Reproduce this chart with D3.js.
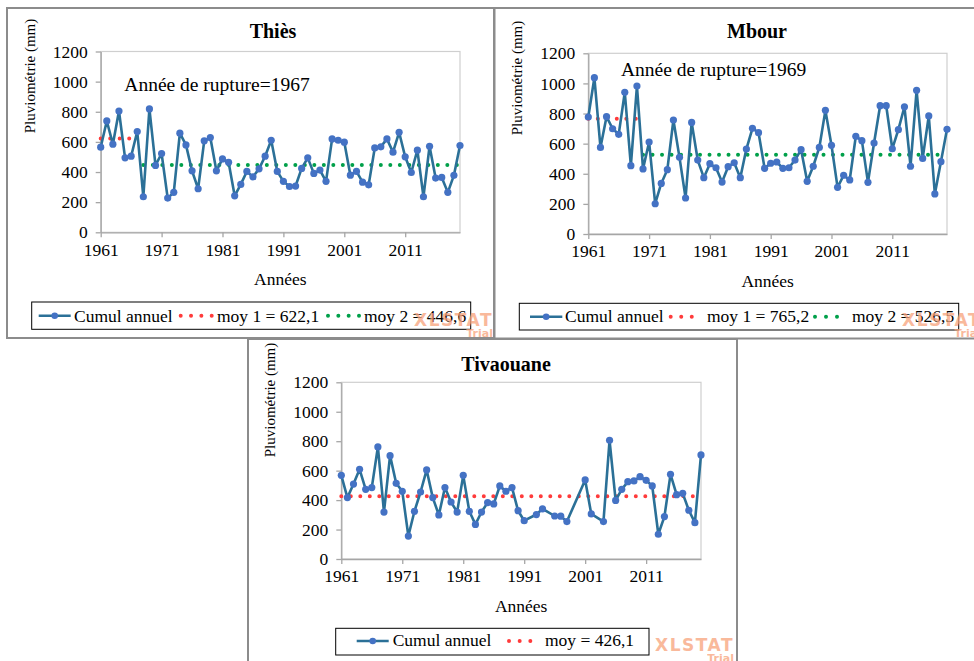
<!DOCTYPE html>
<html><head><meta charset="utf-8">
<script src="https://cdn.jsdelivr.net/npm/d3@7"></script>
<style>
body{margin:0;background:#fff}
svg{display:block}
text{font-family:"Liberation Serif","Times New Roman",serif}
</style>
</head><body>
<svg id="c" width="974" height="661"></svg>
<script>
// ---------- DATA ----------
const years = d3.range(1961, 2021);
const thiesValues = [565,739,585,805,494,505,669,236,819,444,
  523,227,265,658,580,408,289,607,629,408,
  487,465,242,318,404,368,421,505,611,404,
  338,304,307,424,494,391,413,338,620,611,
  598,379,404,333,315,560,567,620,532,664,
  501,397,545,236,571,360,364,265,378,576];
const mbourValues = [777,1038,575,779,699,662,941,454,983,432,
  611,201,336,427,757,509,239,741,491,374,
  467,440,345,447,473,374,564,702,673,436,
  470,478,436,440,491,560,350,450,575,821,
  589,310,390,359,649,620,343,604,852,852,
  566,693,845,450,954,502,784,266,480,695];
const tivaouaneValues = [568,417,509,609,473,485,761,319,702,514,
  460,156,324,455,605,417,299,485,387,319,
  568,324,235,319,383,374,496,460,485,328,
  260,null,302,341,null,292,291,254,null,null,
  537,306,null,254,806,398,473,525,530,559,
  534,496,168,288,575,437,446,331,247,707];
const stationNames = ["Thiès", "Mbour", "Tivaouane"];
const breakYears = [1967, 1969, null];
const mean1Values = [622.1, 765.2, 426.1];
const mean2Values = [446.6, 526.5, null];
const mean1Labels = ["moy 1 = 622,1", "moy 1 = 765,2", "moy = 426,1"];
const mean2Labels = ["moy 2 = 446,6", "moy 2 = 526,5", null];
const seriesLabel = "Cumul annuel";
const yTickValues = [0, 200, 400, 600, 800, 1000, 1200];
const xTickValues = [1961, 1971, 1981, 1991, 2001, 2011];
const allValues = [thiesValues, mbourValues, tivaouaneValues];

// ---------- LAYOUT ----------
const layout = [
  {frame:[7,8,487,330], plot:[100.7,51.5,460,232.3], title:[273,38], ylab:[30,76],
   note:[124.3,90.5], legend:{box:[31.7,302,439,27.3], cy:315.7, base:321.7,
   items:[[38.7,70.7,74],[180.7,211.7,217],[328,359,364]]}, wm:[493,325.5]},
  {frame:[494.5,8,481,330.5], plot:[588.3,53.3,947,234], title:[757,38], ylab:[517,78],
   note:[621,76], legend:{box:[519.3,303.3,439.4,26.7], cy:316.7, base:322.3,
   items:[[530,562.3,565],[670.7,702.3,707],[815,848,852]]}, wm:[981,326]},
  {frame:[248,339,489,340], plot:[341.3,382.3,701,559], title:[506,371], ylab:[270,400],
   note:null, legend:{box:[335.7,628.3,313.3,26.7], cy:641, base:646,
   items:[[356.7,388.7,392.7],[509,541,545]]}, wm:[734,650.5]}
];

const LINE = "#2b7097", MARK = "#4472c4", RED = "#ff3b3b", GREEN = "#00a04a", WM = "#f8a27a";
const svg = d3.select("#c");
svg.append("rect").attr("width",974).attr("height",661).attr("fill","#fff");

// frames (Tivaouane first so the upper panels sit on top)
[2,0,1].forEach(i => {
  const f = layout[i].frame;
  svg.append("rect").attr("x",f[0]).attr("y",f[1]).attr("width",f[2]).attr("height",f[3])
    .attr("fill","#fff").attr("stroke","#8c8c8c").attr("stroke-width",2);
});

const wmLayer = [];
layout.forEach((L, i) => {
  const g = svg.append("g");
  const [x0, yT, x1, yB] = L.plot;
  const x = d3.scaleLinear().domain([1961, 2020]).range([x0, x1]);
  const y = d3.scaleLinear().domain([0, 1200]).range([yB, yT]);

  // plot area border
  g.append("rect").attr("x",x0).attr("y",yT).attr("width",x1-x0).attr("height",yB-yT)
    .attr("fill","none").attr("stroke","#cfcfcf").attr("stroke-width",1.2);

  const ax = g.append("g").attr("transform",`translate(${x0},0)`)
    .call(d3.axisLeft(y).tickValues(yTickValues).tickSize(5).tickSizeOuter(0).tickPadding(8).tickFormat(d3.format("d")));
  const bx = g.append("g").attr("transform",`translate(0,${yB})`)
    .call(d3.axisBottom(x).tickValues(xTickValues).tickSize(5).tickSizeOuter(0).tickPadding(6).tickFormat(d3.format("d")));
  [ax, bx].forEach(a => {
    a.attr("font-family", null).attr("font-size", null);
    a.select(".domain").attr("stroke","#a6a6a6").attr("stroke-width",1.3);
    a.selectAll(".tick line").attr("stroke","#a6a6a6").attr("stroke-width",1.3);
    a.selectAll("text").style("font-family","'Liberation Serif',serif").style("font-size","17.5px").style("fill","#000");
  });

  // titles
  g.append("text").attr("x",L.title[0]).attr("y",L.title[1]).attr("text-anchor","middle")
    .style("font-size","20px").style("font-weight","bold").text(stationNames[i]);
  g.append("text").attr("transform",`translate(${L.ylab[0]+5},${L.ylab[1]}) rotate(-90)`)
    .attr("text-anchor","middle").style("font-size","15px").text("Pluviométrie (mm)");
  g.append("text").attr("x",(x0+x1)/2).attr("y",yB+53).attr("text-anchor","middle")
    .style("font-size","17.5px").text("Années");
  if (L.note) {
    g.append("text").attr("x",L.note[0]).attr("y",L.note[1]).style("font-size","19.5px")
      .text("Année de rupture=" + breakYears[i]);
  }

  // mean lines
  const dotted = (sel, color) => sel.attr("fill","none").attr("stroke",color)
    .attr("stroke-width",4).attr("stroke-linecap","round").attr("stroke-dasharray","0 9.5");
  const bY = breakYears[i];
  const m1End = bY === null ? 2020 : bY;
  const line2 = d3.line().x(d => x(d[0])).y(d => y(d[1]));
  dotted(g.append("path").attr("d", line2([[1961, mean1Values[i]], [m1End, mean1Values[i]]])), RED);
  if (mean2Values[i] !== null) {
    dotted(g.append("path").attr("d", line2([[bY + 1, mean2Values[i]], [2020, mean2Values[i]]])), GREEN);
  }

  // series
  const pts = years.map((yr, k) => [yr, allValues[i][k]]).filter(d => d[1] !== null);
  g.append("path").attr("d", line2(pts)).attr("fill","none").attr("stroke",LINE)
    .attr("stroke-width",2.6).attr("stroke-linejoin","round");
  g.selectAll("circle.m").data(pts).join("circle").attr("class","m")
    .attr("cx", d => x(d[0])).attr("cy", d => y(d[1])).attr("r",3.6).attr("fill",MARK);

  // legend
  const lg = L.legend;
  g.append("rect").attr("x",lg.box[0]).attr("y",lg.box[1]).attr("width",lg.box[2]).attr("height",lg.box[3])
    .attr("fill","#fff").attr("stroke","#000").attr("stroke-width",1);
  const it0 = lg.items[0];
  g.append("line").attr("x1",it0[0]).attr("x2",it0[1]).attr("y1",lg.cy).attr("y2",lg.cy)
    .attr("stroke",LINE).attr("stroke-width",2.6);
  g.append("circle").attr("cx",(it0[0]+it0[1])/2).attr("cy",lg.cy).attr("r",3.3).attr("fill",MARK);
  g.append("text").attr("x",it0[2]).attr("y",lg.base).style("font-size","17.5px").text(seriesLabel);
  const labels = [mean1Labels[i], mean2Labels[i]];
  const colors = [RED, GREEN];
  lg.items.slice(1).forEach((it, j) => {
    g.append("line").attr("x1",it[0]).attr("x2",it[1]).attr("y1",lg.cy).attr("y2",lg.cy)
      .attr("stroke",colors[j]).attr("stroke-width",4).attr("stroke-linecap","round")
      .attr("stroke-dasharray",`0 ${(it[1]-it[0])/3}`);
    g.append("text").attr("x",it[2]).attr("y",lg.base).style("font-size","17.5px").text(labels[j]);
  });
  wmLayer.push(L.wm);
});

// watermarks on top of everything
wmLayer.forEach(w => {
  svg.append("text").attr("x",w[0]).attr("y",w[1]).attr("text-anchor","end")
    .style("font-family","'DejaVu Sans',sans-serif").style("font-weight","bold").style("font-size","17px")
    .style("letter-spacing","1.5px").style("fill",WM).style("opacity",0.75).text("XLSTAT");
  svg.append("text").attr("x",w[0]).attr("y",w[1]+11).attr("text-anchor","end")
    .style("font-family","'DejaVu Sans',sans-serif").style("font-weight","bold").style("font-size","11px")
    .style("fill",WM).style("opacity",0.75).text("Trial");
});
</script>
</body></html>
